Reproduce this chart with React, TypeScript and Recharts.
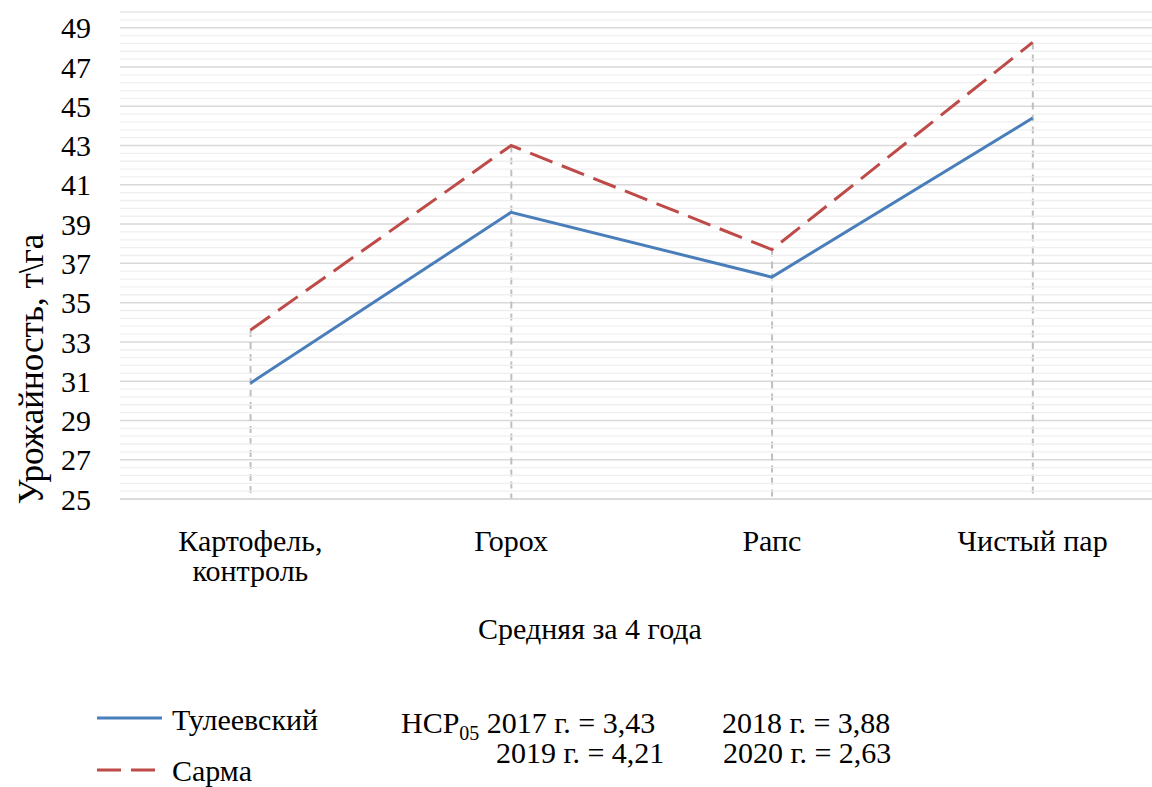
import React from "react";
import {
  Bar,
  CartesianGrid,
  ComposedChart,
  Line,
  ReferenceLine,
  XAxis,
  YAxis,
} from "recharts";

const FONT = "'Liberation Serif', serif";

// Культуры-предшественники
const crops = ["Картофель, контроль", "Горох", "Рапс", "Чистый пар"];
// Урожайность, т/га (средняя за 4 года)
const tuleevsky = [30.9, 39.6, 36.3, 44.4];
const sarma = [33.6, 43.0, 37.7, 48.25];

const yTicks = [25, 27, 29, 31, 33, 35, 37, 39, 41, 43, 45, 47, 49];
const Y_MIN = 25;
const Y_MAX = 49.8;
const MINOR_STEP = 0.4;

const minorTicks: number[] = [];
for (let i = 0; Y_MIN + i * MINOR_STEP <= Y_MAX + 1e-9; i++) {
  const v = +(Y_MIN + i * MINOR_STEP).toFixed(1);
  if (!yTicks.includes(v)) minorTicks.push(v);
}

const rows = crops.map((name, i) => ({
  name,
  tuleevsky: tuleevsky[i],
  sarma: sarma[i],
  drop: Math.max(tuleevsky[i], sarma[i]),
}));

const BLUE = "#4a7ebb";
const RED = "#be4b48";
const DASH = "24 10";

function DropLine(props: any) {
  const { x, y, width, height } = props;
  const cx = x + width / 2;
  return (
    <line
      x1={cx}
      y1={y}
      x2={cx}
      y2={y + height}
      stroke="#bfbfbf"
      strokeWidth={2}
      strokeDasharray="7 5"
    />
  );
}

function CropTick(props: any) {
  const { x, y, payload } = props;
  const lines = String(payload.value).split(/(?<=,)\s/);
  return (
    <text x={x} y={y} textAnchor="middle" fontFamily={FONT} fontSize={30} fill="#000">
      {lines.map((l, i) => (
        <tspan key={i} x={x} dy={i === 0 ? 44 : 30}>
          {l}
        </tspan>
      ))}
    </text>
  );
}

export default function App() {
  return (
    <div
      style={{
        position: "absolute",
        left: 0,
        top: 0,
        width: 1152,
        height: 787,
        overflow: "hidden",
        background: "#fff",
        fontFamily: FONT,
      }}
    >
      <ComposedChart
        width={1163}
        height={600}
        data={rows}
        margin={{ top: 12, right: 0, left: 0, bottom: 0 }}
      >
        <CartesianGrid vertical={false} stroke="#d9d9d9" strokeWidth={1.5} />
        {minorTicks.map((v) => (
          <ReferenceLine key={v} y={v} stroke="#efefef" strokeWidth={1.3} />
        ))}
        <XAxis
          dataKey="name"
          height={101}
          tick={<CropTick />}
          tickLine={false}
          axisLine={{ stroke: "#d9d9d9", strokeWidth: 1.5 }}
          tickSize={0}
          tickMargin={8}
        />
        <YAxis
          type="number"
          domain={[Y_MIN, Y_MAX]}
          ticks={yTicks}
          width={120}
          tickLine={false}
          axisLine={false}
          tickSize={0}
          tickMargin={29}
          tick={{ fontFamily: FONT, fontSize: 30, fill: "#000" }}
          allowDataOverflow
        />
        <Bar dataKey="drop" shape={<DropLine />} isAnimationActive={false} />
        <Line
          dataKey="tuleevsky"
          stroke={BLUE}
          strokeWidth={3}
          dot={false}
          activeDot={false}
          isAnimationActive={false}
        />
        <Line
          dataKey="sarma"
          stroke={RED}
          strokeWidth={3}
          strokeDasharray={DASH}
          dot={false}
          activeDot={false}
          isAnimationActive={false}
        />
      </ComposedChart>

      {/* подписи осей, легенда и НСР */}
      <svg
        style={{ position: "absolute", left: 0, top: 0 }}
        width={1152}
        height={787}
        fontFamily={FONT}
        fill="#000"
      >
        <text transform="translate(43, 369) rotate(-90)" textAnchor="middle" fontSize={35}>
          Урожайность, т\га
        </text>
        <text x={590} y={639} textAnchor="middle" fontSize={30}>
          Средняя за 4 года
        </text>

        <line x1={97} y1={718} x2={162} y2={718} stroke={BLUE} strokeWidth={3} />
        <line x1={97} y1={770} x2={162} y2={770} stroke={RED} strokeWidth={3} strokeDasharray={DASH} />
        <text x={172} y={730} fontSize={30}>Тулеевский</text>
        <text x={172} y={781} fontSize={30}>Сарма</text>

        <text x={401} y={733} fontSize={30}>
          НСР
          <tspan fontSize={20} dy={7}>05</tspan>
          <tspan dy={-7}> 2017 г. = 3,43</tspan>
        </text>
        <text x={722} y={733} fontSize={30}>2018 г. = 3,88</text>
        <text x={496} y={763} fontSize={30}>2019 г. = 4,21</text>
        <text x={723} y={763} fontSize={30}>2020 г. = 2,63</text>
      </svg>
    </div>
  );
}
